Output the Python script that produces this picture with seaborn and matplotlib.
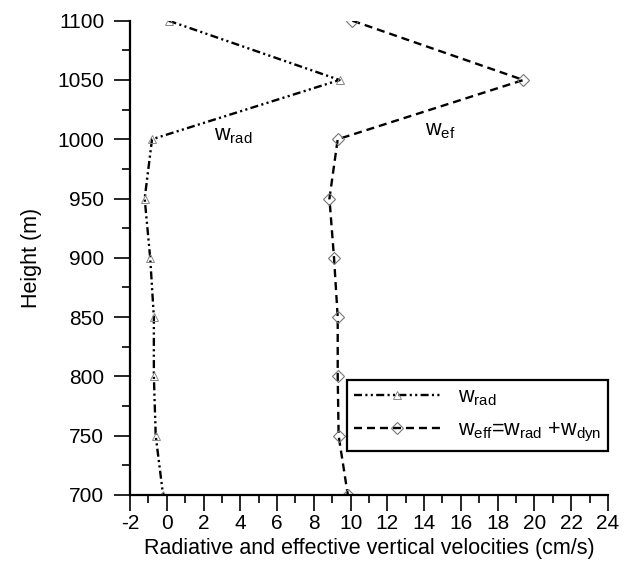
import matplotlib
matplotlib.use("Agg")
import matplotlib.pyplot as plt
from matplotlib.ticker import MultipleLocator
import numpy as np
import pandas as pd
import seaborn as sns

# Heights (m) and vertical velocities (cm/s)
heights = [1100, 1050, 1000, 950, 900, 850, 800, 750, 700]
w_rad = [0.1, 9.4, -0.8, -1.2, -0.9, -0.7, -0.7, -0.6, -0.2]
w_eff = [10.1, 19.4, 9.3, 8.85, 9.1, 9.3, 9.3, 9.35, 9.85]

x_ticks = list(range(-2, 25, 2))
y_ticks = list(range(700, 1101, 50))

label_rad = r"$\mathrm{w_{rad}}$"
label_eff = r"$\mathrm{w_{eff}}$=$\mathrm{w_{rad}}$ +$\mathrm{w_{dyn}}$"

sns.set_style("ticks")
plt.rcParams["font.family"] = ["Liberation Sans", "DejaVu Sans"]
plt.rcParams["mathtext.fontset"] = "custom"
plt.rcParams["mathtext.rm"] = "Liberation Sans"
plt.rcParams["mathtext.it"] = "Liberation Sans:italic"
plt.rcParams["mathtext.bf"] = "Liberation Sans:bold"
plt.rcParams["axes.unicode_minus"] = False
for key in ("text.color", "axes.labelcolor", "xtick.color", "ytick.color",
            "xtick.labelcolor", "ytick.labelcolor"):
    plt.rcParams[key] = "black"

df_rad = pd.DataFrame({"v": w_rad, "h": heights})
df_eff = pd.DataFrame({"v": w_eff, "h": heights})

fig = plt.figure(figsize=(6.3, 5.67), dpi=100)
ax = fig.add_axes([0.2063, 0.127, 0.7587, 0.8365])

sns.lineplot(data=df_rad, x="v", y="h", sort=False, estimator=None, ax=ax,
             color="black", linewidth=1.7, label=label_rad,
             marker="^", markersize=6, markerfacecolor="white",
             markeredgecolor="#888888", markeredgewidth=0.7)
sns.lineplot(data=df_eff, x="v", y="h", sort=False, estimator=None, ax=ax,
             color="black", linewidth=1.7, label=label_eff,
             marker="D", markersize=6.5, markerfacecolor="white",
             markeredgecolor="#777777", markeredgewidth=0.8)

lines = ax.get_lines()
lines[0].set_dashes([3.4, 1.4, 0.9, 1.4, 0.9, 1.4])
lines[1].set_dashes([3.4, 2.1])
for ln in lines:
    ln.set_markerfacecolor("none")

ax.set_xlim(-2, 24)
ax.set_ylim(700, 1100)
ax.set_xticks(x_ticks)
ax.set_yticks(y_ticks)
ax.xaxis.set_minor_locator(MultipleLocator(1))
ax.yaxis.set_minor_locator(MultipleLocator(25))
ax.tick_params(which="major", direction="out", length=11.5, width=1.2,
               labelsize=15, color="black", labelcolor="black", pad=2)
ax.tick_params(which="minor", direction="out", length=6, width=1.2,
               color="black")
ax.tick_params(axis="y", which="major", pad=7)

for side in ("top", "right"):
    ax.spines[side].set_visible(False)
for side in ("left", "bottom"):
    ax.spines[side].set_linewidth(1.6)
    ax.spines[side].set_color("black")

ax.set_xlabel("Radiative and effective vertical velocities (cm/s)",
              fontsize=15.5, labelpad=4, color="black")
ax.set_ylabel("Height (m)", fontsize=15.5, labelpad=11, color="black")

ax.text(3.6, 1003, label_rad, fontsize=15.5, ha="center", va="center",
        color="black")
ax.text(14.9, 1007, r"$\mathrm{w_{ef}}$", fontsize=15.5, ha="center",
        va="center", color="black")

leg = ax.legend(loc="lower right", bbox_to_anchor=(1.0, 0.093), fontsize=15.5,
                frameon=True, fancybox=False, edgecolor="black",
                handlelength=4.0, handletextpad=0.85, labelspacing=0.55,
                borderpad=0.3, numpoints=1, borderaxespad=0)
leg.get_frame().set_linewidth(1.6)
leg.get_frame().set_alpha(1)
for t in leg.get_texts():
    t.set_color("black")

fig.savefig("out.png", dpi=100)
